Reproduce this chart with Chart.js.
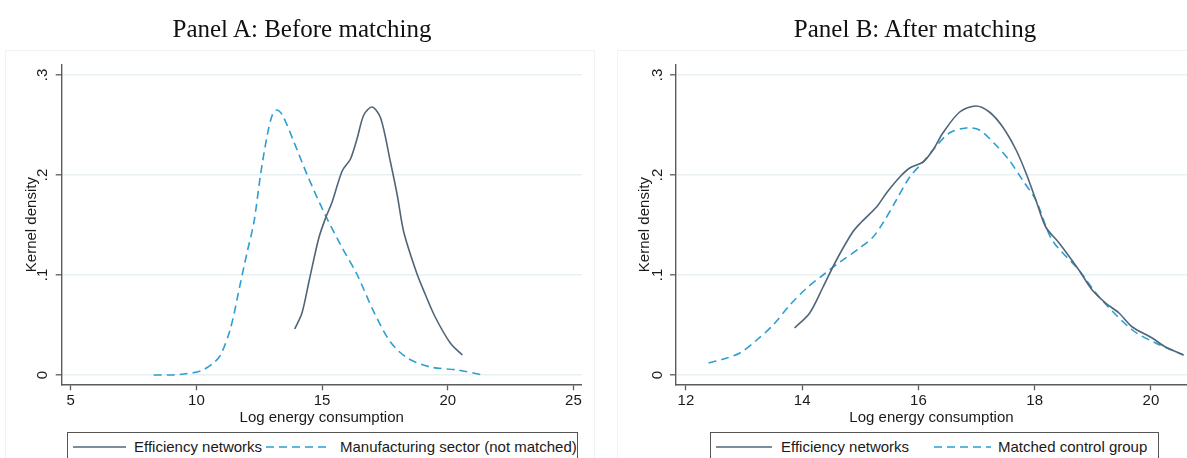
<!DOCTYPE html>
<html>
<head>
<meta charset="utf-8">
<script src="https://cdn.jsdelivr.net/npm/chart.js@4.4.0/dist/chart.umd.min.js"></script>
<style>
  body { margin: 0; background: #fff; width: 1187px; height: 458px; overflow: hidden; position: relative;
         font-family: "Liberation Sans", Arial, sans-serif; }
  .frame { position: absolute; border: 1px solid #eef3f5; }
  .ttl { position: absolute; top: 12px; width: 400px; text-align: center; white-space: nowrap;
         font-family: "Liberation Serif", "Times New Roman", serif; font-size: 25px; line-height: 34px; color: #111; }
  canvas { position: absolute; top: 0; }
  .leg { position: absolute; top: 432px; height: 40px; border: 1.5px solid #555; box-sizing: border-box; background: #fff; overflow: hidden; }
  .leg span { position: absolute; top: 5px; font-size: 15px; line-height: 18px; color: #1a1a1a; white-space: nowrap; }
  .leg svg { position: absolute; top: 10px; overflow: visible; }
</style>
</head>
<body>
<script>
/* Kernel density plots: before / after matching */

var xTicksA = [5, 10, 15, 20, 25];
var xTicksB = [12, 14, 16, 18, 20];
var yTicks = [0, 0.1, 0.2, 0.3];

var titles = ["Panel A: Before matching", "Panel B: After matching"];
var xTitle = "Log energy consumption";
var yTitle = "Kernel density";
var namesA = ["Efficiency networks", "Manufacturing sector (not matched)"];
var namesB = ["Efficiency networks", "Matched control group"];

// Panel A — efficiency networks
var effA_x = [13.91, 14.2, 14.5, 14.87, 15.14, 15.4, 15.8, 16.13, 16.4, 16.66, 16.99, 17.33, 17.72, 17.99, 18.25, 18.75, 19.1, 19.5, 20.1, 20.58];
var effA_y = [0.046, 0.062, 0.096, 0.137, 0.157, 0.173, 0.204, 0.216, 0.237, 0.26, 0.268, 0.257, 0.213, 0.18, 0.143, 0.103, 0.081, 0.058, 0.032, 0.02];
// Panel A — manufacturing sector
var mfgA_x = [8.3, 9.0, 9.5, 10.17, 10.63, 10.96, 11.36, 11.76, 12.02, 12.29, 12.55, 12.82, 13.02, 13.19, 13.42, 13.88, 14.41, 15.07, 15.74, 16.4, 17.06, 17.72, 18.39, 19.31, 20.38, 21.4];
var mfgA_y = [0, 0, 0.001, 0.004, 0.011, 0.02, 0.047, 0.093, 0.123, 0.153, 0.2, 0.24, 0.26, 0.265, 0.26, 0.233, 0.2, 0.163, 0.13, 0.1, 0.063, 0.033, 0.017, 0.008, 0.005, 0];
// Panel B — efficiency networks
var effB_x = [13.87, 14.13, 14.36, 14.59, 14.87, 15.02, 15.28, 15.45, 15.68, 15.85, 16.08, 16.25, 16.42, 16.71, 16.99, 17.22, 17.45, 17.68, 17.85, 18.02, 18.19, 18.42, 18.76, 18.99, 19.22, 19.45, 19.68, 20.02, 20.25, 20.56];
var effB_y = [0.047, 0.062, 0.088, 0.115, 0.143, 0.153, 0.168, 0.182, 0.198, 0.207, 0.213, 0.225, 0.242, 0.263, 0.269, 0.263, 0.248, 0.225, 0.202, 0.175, 0.148, 0.132, 0.105, 0.085, 0.072, 0.062, 0.048, 0.037, 0.028, 0.02];
// Panel B — matched control group
var ctrlB_x = [12.39, 12.65, 12.93, 13.22, 13.5, 13.79, 14.08, 14.36, 14.65, 14.99, 15.22, 15.39, 15.62, 15.85, 16.08, 16.25, 16.53, 16.82, 17.05, 17.33, 17.56, 17.79, 18.02, 18.3, 18.76, 19.11, 19.68, 20.08, 20.56];
var ctrlB_y = [0.012, 0.016, 0.022, 0.035, 0.05, 0.07, 0.087, 0.1, 0.113, 0.127, 0.138, 0.152, 0.175, 0.198, 0.213, 0.225, 0.242, 0.247, 0.245, 0.23, 0.215, 0.195, 0.175, 0.135, 0.105, 0.078, 0.045, 0.032, 0.02];

(function () {
  "use strict";

  var H = 430;
  var INK = "#1a1a1a";
  var AXIS = "#5c5c5c";
  var GRID = "#e8f0f2";
  var SOLID = "#4f6679";
  var DASHED = "#2c9fd1";
  var DASH = [8, 5];
  var FONT = "'Liberation Sans', Arial, sans-serif";

  Chart.defaults.font.family = FONT;
  Chart.defaults.color = INK;

  function pts(xs, ys) {
    return xs.map(function (x, i) { return { x: x, y: ys[i] }; });
  }

  function fmtY(v) {
    return v === 0 ? "0" : v.toFixed(1).replace("0.", ".");
  }

  function series(label, xs, ys, color, dash) {
    return {
      label: label,
      data: pts(xs, ys),
      borderColor: color,
      borderWidth: 1.6,
      borderDash: dash,
      pointRadius: 0,
      tension: 0.3,
      fill: false
    };
  }

  /* rotated y tick labels, read upward like the original */
  var yLabels = {
    id: "yLabels",
    afterDraw: function (chart) {
      var s = chart.scales.y, ctx = chart.ctx;
      ctx.save();
      ctx.fillStyle = INK;
      ctx.font = "15px " + FONT;
      ctx.textAlign = "center";
      ctx.textBaseline = "middle";
      s.ticks.forEach(function (t) {
        ctx.save();
        ctx.translate(s.right - 18.5, s.getPixelForValue(t.value));
        ctx.rotate(-Math.PI / 2);
        ctx.fillText(fmtY(t.value), 0, 0);
        ctx.restore();
      });
      ctx.restore();
    }
  };

  function buildPanel(p) {
    var cv = document.createElement("canvas");
    cv.width = p.w;
    cv.height = H;
    cv.style.left = p.left + "px";
    document.body.appendChild(cv);

    var chart = new Chart(cv, {
      type: "line",
      data: { datasets: p.datasets },
      plugins: [yLabels],
      options: {
        responsive: false,
        animation: false,
        events: [],
        layout: { padding: { left: 0, top: 65, right: p.padRight, bottom: 0 } },
        plugins: { legend: { display: false }, tooltip: { enabled: false } },
        scales: {
          x: {
            type: "linear",
            min: p.xmin,
            max: p.xmax,
            bounds: "data",
            afterBuildTicks: function (s) { s.ticks = p.xTicks.map(function (v) { return { value: v }; }); },
            afterFit: function (s) { s.height = H - 384.3; },
            ticks: { font: { size: 15 }, color: INK, padding: 2, maxRotation: 0, autoSkip: false },
            grid: { drawOnChartArea: false, tickLength: 6, tickColor: AXIS, tickWidth: 1.3 },
            border: { color: AXIS, width: 1.4 },
            title: { display: true, text: xTitle, font: { size: 15 }, color: INK, padding: { top: 0, bottom: 3.3 } }
          },
          y: {
            type: "linear",
            min: -0.0093,
            max: 0.31,
            bounds: "data",
            afterBuildTicks: function (s) { s.ticks = yTicks.map(function (v) { return { value: v }; }); },
            afterFit: function (s) { s.width = p.yw; },
            ticks: { display: false },
            grid: { color: GRID, lineWidth: 1.6, tickLength: 6, tickColor: AXIS, tickWidth: 1.3 },
            border: { color: AXIS, width: 1.4 },
            title: { display: true, text: yTitle, font: { size: 15 }, color: INK, padding: { top: p.yTitlePad, bottom: 0 } }
          }
        }
      }
    });

    // frame and title
    var fr = document.createElement("div");
    fr.className = "frame";
    fr.style.left = p.frame[0] + "px";
    fr.style.top = "50px";
    fr.style.width = p.frame[1] + "px";
    fr.style.height = "460px";
    document.body.insertBefore(fr, cv);

    var t = document.createElement("div");
    t.className = "ttl";
    t.style.left = (p.titleX - 200) + "px";
    t.textContent = p.title;
    document.body.appendChild(t);

    // legend built from the chart's datasets: [line start, line length, text start]
    var lg = document.createElement("div");
    lg.className = "leg";
    lg.style.left = p.leg.left + "px";
    lg.style.width = p.leg.width + "px";
    chart.data.datasets.forEach(function (ds, i) {
      var it = p.leg.items[i];
      var svg = document.createElementNS("http://www.w3.org/2000/svg", "svg");
      svg.setAttribute("width", String(it[1]));
      svg.setAttribute("height", "8");
      svg.style.left = it[0] + "px";
      var ln = document.createElementNS("http://www.w3.org/2000/svg", "line");
      ln.setAttribute("x1", "0"); ln.setAttribute("x2", String(it[1]));
      ln.setAttribute("y1", "4"); ln.setAttribute("y2", "4");
      ln.setAttribute("stroke", ds.borderColor);
      ln.setAttribute("stroke-width", "1.6");
      if (ds.borderDash) ln.setAttribute("stroke-dasharray", ds.borderDash.join(" "));
      svg.appendChild(ln);
      lg.appendChild(svg);
      var sp = document.createElement("span");
      sp.style.left = it[2] + "px";
      sp.textContent = ds.label;
      lg.appendChild(sp);
    });
    document.body.appendChild(lg);
    return chart;
  }

  buildPanel({
    left: 0, w: 600, padRight: 600 - 581.7, yw: 61.7, yTitlePad: 23,
    xmin: 4.64, xmax: 25.33, xTicks: xTicksA,
    frame: [5, 588], title: titles[0], titleX: 302,
    leg: { left: 67, width: 511, items: [[5, 53, 66], [198, 64, 272]] },
    datasets: [
      series(namesA[0], effA_x, effA_y, SOLID, undefined),
      series(namesA[1], mfgA_x, mfgA_y, DASHED, DASH)
    ]
  });

  buildPanel({
    left: 600, w: 587, padRight: 0, yw: 76, yTitlePad: 36,
    xmin: 11.83, xmax: 20.62, xTicks: xTicksB,
    frame: [617, 600], title: titles[1], titleX: 915,
    leg: { left: 710, width: 449, items: [[5, 56, 70], [223, 57, 287]] },
    datasets: [
      series(namesB[0], effB_x, effB_y, SOLID, undefined),
      series(namesB[1], ctrlB_x, ctrlB_y, DASHED, DASH)
    ]
  });
})();
</script>
</body>
</html>
